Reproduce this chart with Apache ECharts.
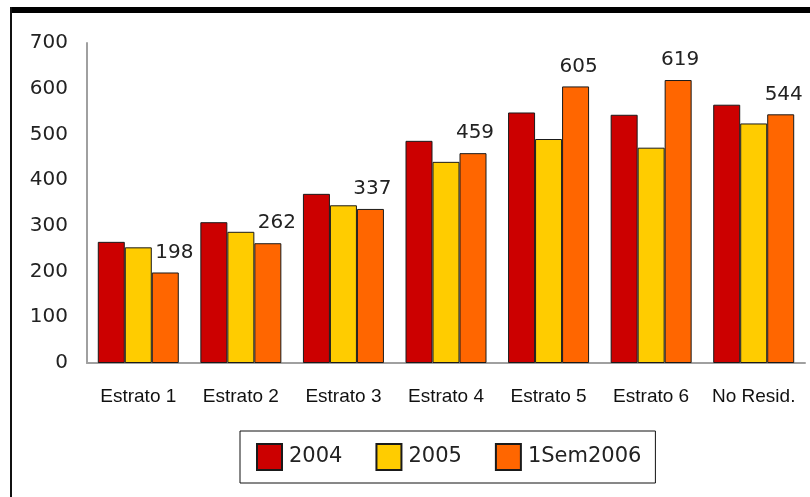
<!DOCTYPE html>
<html>
<head>
<meta charset="utf-8">
<script src="https://cdn.jsdelivr.net/npm/echarts@6/dist/echarts.min.js"></script>
<style>
  html, body { margin: 0; padding: 0; background: #ffffff; }
  #chart { width: 810px; height: 497px; }
</style>
</head>
<body>
<div id="chart"></div>
<script>
// Categories (socio-economic strata) and yearly values
const categories = ['Estrato 1', 'Estrato 2', 'Estrato 3', 'Estrato 4', 'Estrato 5', 'Estrato 6', 'No Resid.'];
const seriesNames = ['2004', '2005', '1Sem2006'];
const values2004 = [265, 308, 370, 486, 548, 543, 565];
const values2005 = [253, 287, 345, 440, 490, 471, 524];
const values1Sem2006 = [198, 262, 337, 459, 605, 619, 544];
const yTicks = [0, 100, 200, 300, 400, 500, 600, 700];

const colors = ['#cc0000', '#ffcc00', '#ff6600'];

const chart = echarts.init(document.getElementById('chart'), null, { renderer: 'canvas' });

// value labels on the last series; the two low groups push the label a bit right
const labelShift = [9, 9, 2, 2, 3, 2, 3];
const lastSeriesData = values1Sem2006.map((v, i) => ({
  value: v,
  label: { offset: [labelShift[i], 0] }
}));

const barBase = {
  type: 'bar',
  barWidth: 27,
  barGap: '0%',
  itemStyle: { borderColor: '#1a1a1a', borderWidth: 1 }
};

chart.setOption({
  animation: false,
  backgroundColor: '#ffffff',
  textStyle: { fontFamily: 'DejaVu Sans' },
  grid: { left: 87, right: 5, top: 43, bottom: 134, containLabel: false },
  graphic: [
    { type: 'rect', left: 10, top: 7, shape: { width: 800, height: 6 }, style: { fill: '#000000' }, silent: true },
    { type: 'rect', left: 10, top: 7, shape: { width: 2, height: 490 }, style: { fill: '#111111' }, silent: true }
  ],
  legend: {
    data: seriesNames,
    bottom: 14,
    left: 240,
    orient: 'horizontal',
    icon: 'rect',
    itemWidth: 25,
    itemHeight: 26,
    itemGap: 33,
    padding: [12, 14, 12, 16],
    borderColor: '#111111',
    borderWidth: 1,
    textStyle: { fontFamily: 'DejaVu Sans', fontSize: 21, color: '#222222', padding: [0, 0, 0, 2] }
  },
  xAxis: {
    type: 'category',
    data: categories,
    axisLine: { lineStyle: { color: '#a0a0a0', width: 2 } },
    axisTick: { show: false },
    axisLabel: { fontFamily: 'Liberation Sans', fontSize: 19, color: '#111111', margin: 24, interval: 0 }
  },
  yAxis: {
    type: 'value',
    min: 0,
    max: 700,
    interval: 100,
    axisLine: { show: true, lineStyle: { color: '#a0a0a0', width: 2 } },
    axisTick: { show: false },
    splitLine: { show: false },
    axisLabel: {
      fontFamily: 'DejaVu Sans', fontSize: 20, color: '#222222', margin: 19,
      formatter: v => (yTicks.includes(v) ? String(v) : '')
    }
  },
  series: [
    Object.assign({}, barBase, { name: seriesNames[0], data: values2004, itemStyle: Object.assign({}, barBase.itemStyle, { color: colors[0] }) }),
    Object.assign({}, barBase, { name: seriesNames[1], data: values2005, itemStyle: Object.assign({}, barBase.itemStyle, { color: colors[1] }) }),
    Object.assign({}, barBase, {
      name: seriesNames[2],
      data: lastSeriesData,
      itemStyle: Object.assign({}, barBase.itemStyle, { color: colors[2] }),
      label: {
        show: true,
        position: 'top',
        distance: 10,
        fontFamily: 'DejaVu Sans',
        fontSize: 20,
        color: '#222222'
      }
    })
  ]
});
</script>
</body>
</html>
